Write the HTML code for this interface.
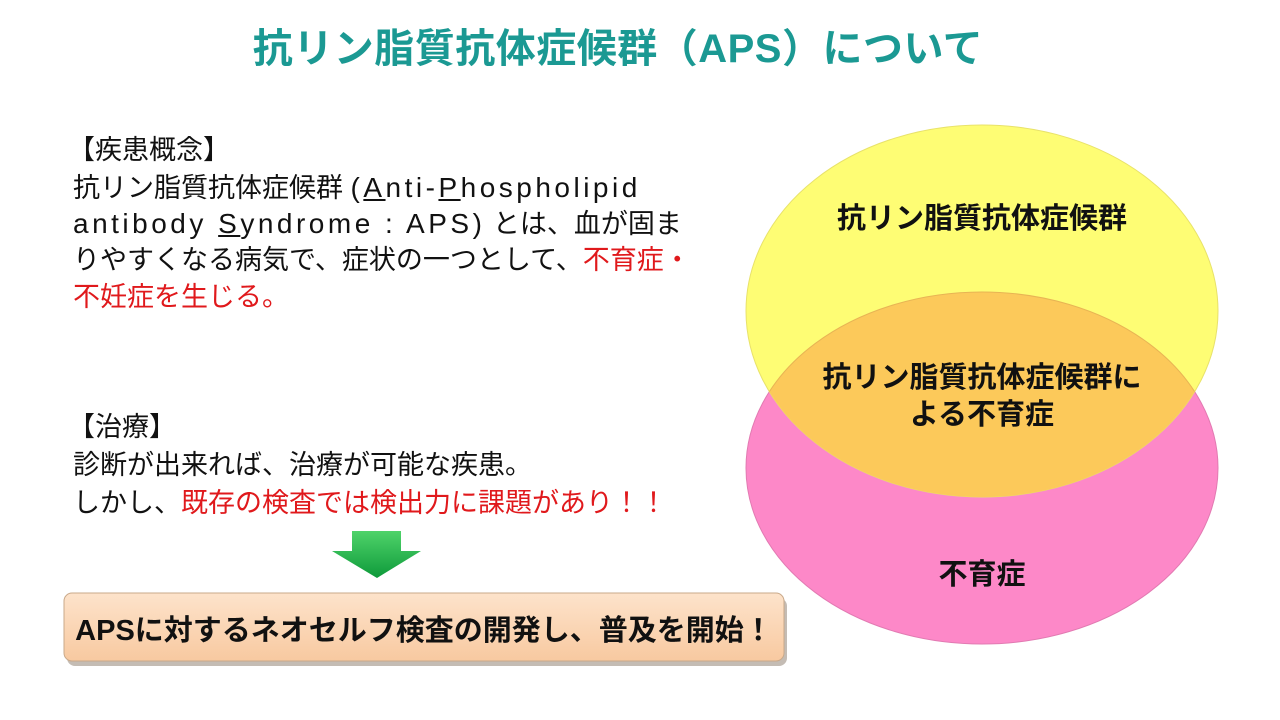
<!DOCTYPE html>
<html><head><meta charset="utf-8"><style>
body{margin:0;width:1280px;height:720px;background:#fff;overflow:hidden;position:relative;font-family:"Liberation Sans","Noto Sans CJK JP",sans-serif}
.l{position:absolute;left:73px;font-size:27px;line-height:36px;white-space:nowrap;color:#111}
.e{font-size:28px;letter-spacing:3.5px}
.r{color:#e0191c}
u{text-decoration:underline;text-underline-offset:2px}
</style></head><body>
<div style="position:absolute;left:0;width:1236px;top:16px;text-align:center;font-size:40px;font-weight:bold;color:#1b9993;white-space:nowrap;letter-spacing:0.5px">抗リン脂質抗体症候群（APS）について</div>
<div class="l" style="left:68px;top:132px">【疾患概念】</div>
<div class="l" style="top:170px">抗リン脂質抗体症候群 <span class="e">(<u>A</u>nti-<u>P</u>hospholipid</span></div>
<div class="l" style="top:206px"><span class="e">antibody <u>S</u>yndrome : APS)</span> とは、血が固ま</div>
<div class="l" style="top:242px">りやすくなる病気で、症状の一つとして、<span class="r">不育症・</span></div>
<div class="l r" style="top:279px">不妊症を生じる。</div>
<div class="l" style="left:68px;top:409px">【治療】</div>
<div class="l" style="top:447px">診断が出来れば、治療が可能な疾患。</div>
<div class="l" style="top:485px">しかし、<span class="r">既存の検査では検出力に課題があり！！</span></div>
<svg style="position:absolute;left:0;top:0" width="1280" height="720">
<defs>
<linearGradient id="ag" x1="0" y1="0" x2="0" y2="1"><stop offset="0" stop-color="#4fd36a"/><stop offset="1" stop-color="#0e9a3a"/></linearGradient>
<linearGradient id="bg" x1="0" y1="0" x2="0" y2="1"><stop offset="0" stop-color="#fde3cb"/><stop offset="1" stop-color="#f8c9a0"/></linearGradient>
<clipPath id="cy"><ellipse cx="982" cy="311" rx="236" ry="186"/></clipPath>
</defs>
<polygon points="352,531 401,531 401,551 421,551 377,578 332,551 352,551" fill="url(#ag)"/>
<rect x="65" y="595" width="720" height="68" rx="8" fill="#8a7a6a" opacity="0.5" transform="translate(2,3)"/>
<rect x="64" y="593" width="720" height="68" rx="8" fill="url(#bg)" stroke="#c9a98a" stroke-width="1"/>
<text x="424" y="640" text-anchor="middle" font-size="29" font-weight="bold" fill="#111" font-family="Liberation Sans,Noto Sans CJK JP,sans-serif">APSに対するネオセルフ検査の開発し、普及を開始！</text>
<ellipse cx="982" cy="468" rx="236" ry="176" fill="#fd88c8" stroke="#e27ab2" stroke-width="1"/>
<ellipse cx="982" cy="311" rx="236" ry="186" fill="#fefd74" stroke="#e8e26a" stroke-width="1"/>
<ellipse cx="982" cy="468" rx="236" ry="176" fill="#fcc95a" stroke="#e8b454" clip-path="url(#cy)"/>
<g font-family="Liberation Sans,Noto Sans CJK JP,sans-serif" font-weight="bold" font-size="29" fill="#111" text-anchor="middle">
<text x="982" y="228">抗リン脂質抗体症候群</text>
<text x="982" y="387">抗リン脂質抗体症候群に</text>
<text x="982" y="424">よる不育症</text>
<text x="982" y="584">不育症</text>
</g>
</svg>
</body></html>
